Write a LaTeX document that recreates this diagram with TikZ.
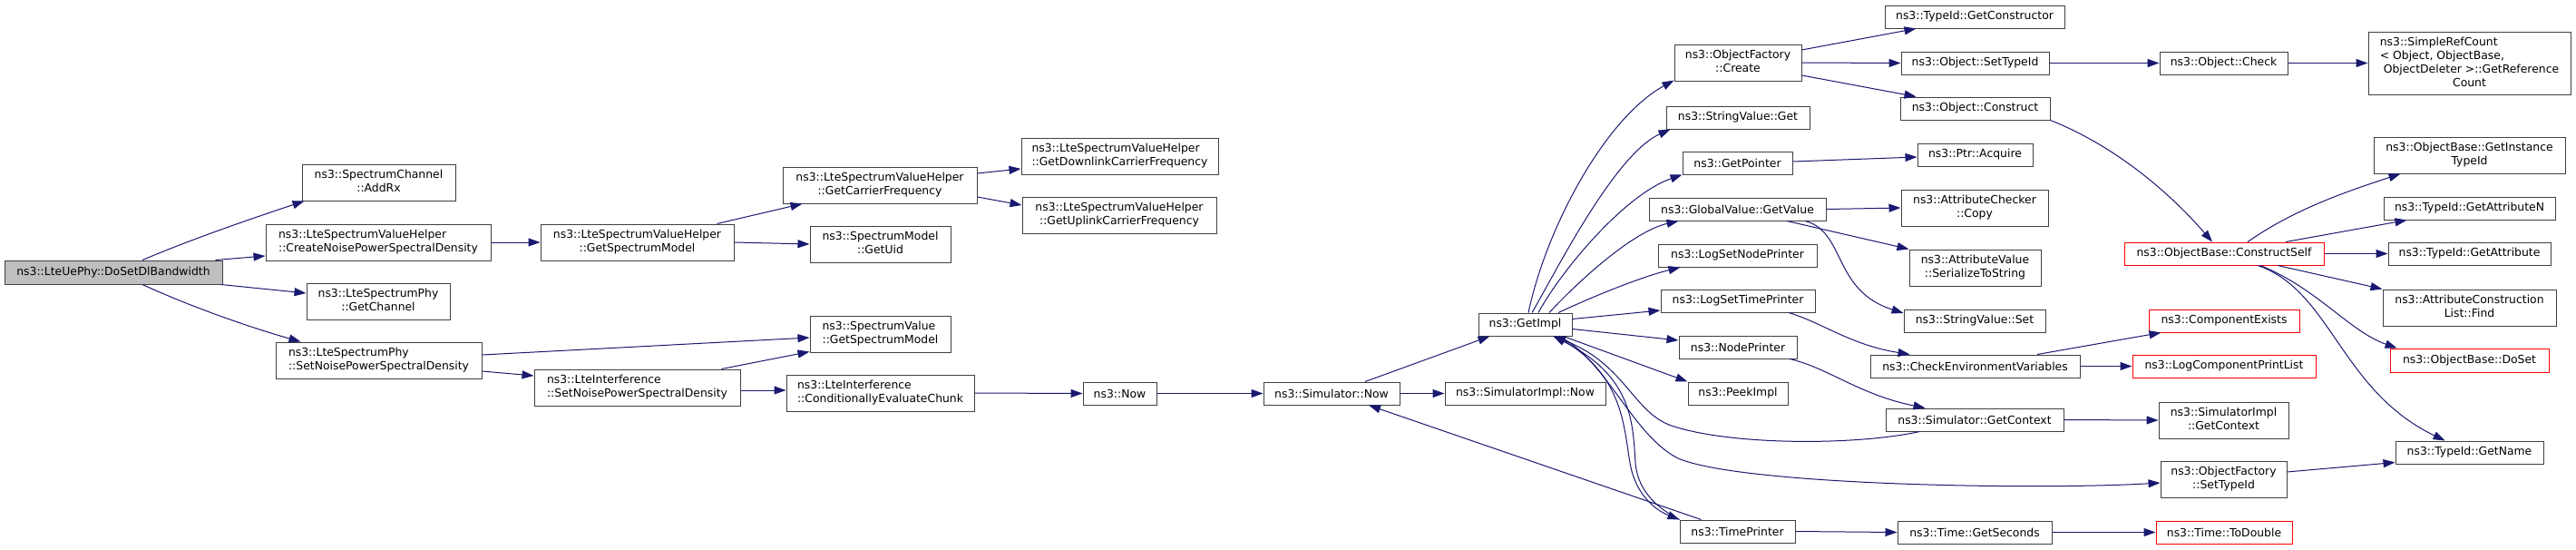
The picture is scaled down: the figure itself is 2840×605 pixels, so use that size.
\documentclass[tikz,border=0pt]{standalone}
\usepackage{fontspec}
\setmainfont{DejaVu Sans}
\usetikzlibrary{arrows.meta}
\definecolor{edgec}{HTML}{191970}
\definecolor{boxc}{HTML}{404040}
\definecolor{rootfill}{HTML}{BFBFBF}
\newcommand\lblTwo[2]{\begin{tabular}{@{}l@{}}#1\\\multicolumn{1}{@{}c@{}}{#2}\end{tabular}}
\newcommand\lblFour[4]{\begin{tabular}{@{}l@{}}#1\\#2\\#3\\\multicolumn{1}{@{}c@{}}{#4}\end{tabular}}
\begin{document}
\begin{tikzpicture}[x=1pt,y=-1pt,
  fn/.style={draw=boxc, line width=1pt, fill=white, inner sep=0pt, font=\fontsize{12.4}{15}\selectfont},
  fnred/.style={fn, draw=red},
  edge/.style={draw=edgec, line width=1pt, -{Triangle[length=13pt,width=9pt]}}]
\useasboundingbox[fill=white] (0,0) rectangle (2840,605);
% column 0
\node[fn, fill=rootfill, minimum width=240pt, minimum height=26pt] (dosetdl) at (125,300) {ns3::LteUePhy::DoSetDlBandwidth};
% column 1
\node[fn, minimum width=169pt, minimum height=40pt] (addrx) at (417.5,201) {\lblTwo{ns3::SpectrumChannel}{::AddRx}};
\node[fn, minimum width=248pt, minimum height=40pt] (createnoise) at (417,267) {\lblTwo{ns3::LteSpectrumValueHelper}{::CreateNoisePowerSpectralDensity}};
\node[fn, minimum width=158pt, minimum height=40pt] (getchannel) at (417,332) {\lblTwo{ns3::LteSpectrumPhy}{::GetChannel}};
\node[fn, minimum width=227pt, minimum height=40pt] (setnoisephy) at (417.5,397) {\lblTwo{ns3::LteSpectrumPhy}{::SetNoisePowerSpectralDensity}};
% column 2
\node[fn, minimum width=213pt, minimum height=40pt] (getspecmodel) at (702.5,267) {\lblTwo{ns3::LteSpectrumValueHelper}{::GetSpectrumModel}};
\node[fn, minimum width=227pt, minimum height=40pt] (lisetnoise) at (702.5,427) {\lblTwo{ns3::LteInterference}{::SetNoisePowerSpectralDensity}};
% column 3
\node[fn, minimum width=214pt, minimum height=40pt] (getcarrier) at (970,204) {\lblTwo{ns3::LteSpectrumValueHelper}{::GetCarrierFrequency}};
\node[fn, minimum width=155pt, minimum height=40pt] (getuid) at (970.5,269) {\lblTwo{ns3::SpectrumModel}{::GetUid}};
\node[fn, minimum width=155pt, minimum height=40pt] (svgetsm) at (970.5,368) {\lblTwo{ns3::SpectrumValue}{::GetSpectrumModel}};
\node[fn, minimum width=207pt, minimum height=40pt] (condeval) at (970.5,433) {\lblTwo{ns3::LteInterference}{::ConditionallyEvaluateChunk}};
% column 4
\node[fn, minimum width=217pt, minimum height=40pt] (downlink) at (1234.5,172) {\lblTwo{ns3::LteSpectrumValueHelper}{::GetDownlinkCarrierFrequency}};
\node[fn, minimum width=214pt, minimum height=40pt] (uplink) at (1234,237) {\lblTwo{ns3::LteSpectrumValueHelper}{::GetUplinkCarrierFrequency}};
\node[fn, minimum width=81pt, minimum height=25pt] (nsnow) at (1234.5,433.5) {ns3::Now};
% column 5
\node[fn, minimum width=150pt, minimum height=25pt] (simnow) at (1468,433.5) {ns3::Simulator::Now};
% column 6
\node[fn, minimum width=103pt, minimum height=25pt] (getimpl) at (1681.5,357.5) {ns3::GetImpl};
\node[fn, minimum width=177pt, minimum height=25pt] (simimplnow) at (1681.5,433.5) {ns3::SimulatorImpl::Now};
% column 7
\node[fn, minimum width=140pt, minimum height=40pt] (ofcreate) at (1916,69) {\lblTwo{ns3::ObjectFactory}{::Create}};
\node[fn, minimum width=158pt, minimum height=25pt] (svget) at (1916,129.5) {ns3::StringValue::Get};
\node[fn, minimum width=121pt, minimum height=25pt] (getpointer) at (1915.5,179.5) {ns3::GetPointer};
\node[fn, minimum width=195pt, minimum height=25pt] (gvgetvalue) at (1915.5,230.5) {ns3::GlobalValue::GetValue};
\node[fn, minimum width=175pt, minimum height=25pt] (logsetnode) at (1915.5,281.5) {ns3::LogSetNodePrinter};
\node[fn, minimum width=170pt, minimum height=25pt] (logsettime) at (1916,331.5) {ns3::LogSetTimePrinter};
\node[fn, minimum width=130pt, minimum height=25pt] (nodeprinter) at (1916,382.5) {ns3::NodePrinter};
\node[fn, minimum width=110pt, minimum height=25pt] (peekimpl) at (1916,433.5) {ns3::PeekImpl};
\node[fn, minimum width=127pt, minimum height=25pt] (timeprinter) at (1915.5,585.5) {ns3::TimePrinter};
% column 8
\node[fn, minimum width=198pt, minimum height=25pt] (getconstructor) at (2177,18.5) {ns3::TypeId::GetConstructor};
\node[fn, minimum width=163pt, minimum height=25pt] (objsettypeid) at (2177.5,69.5) {ns3::Object::SetTypeId};
\node[fn, minimum width=165pt, minimum height=25pt] (objconstruct) at (2177.5,119.5) {ns3::Object::Construct};
\node[fn, minimum width=127pt, minimum height=25pt] (ptracquire) at (2177.5,170.5) {ns3::Ptr::Acquire};
\node[fn, minimum width=162pt, minimum height=40pt] (accopy) at (2177,229) {\lblTwo{ns3::AttributeChecker}{::Copy}};
\node[fn, minimum width=145pt, minimum height=40pt] (avserialize) at (2177.5,295) {\lblTwo{ns3::AttributeValue}{::SerializeToString}};
\node[fn, minimum width=156pt, minimum height=25pt] (svset) at (2177,353.5) {ns3::StringValue::Set};
\node[fn, minimum width=231pt, minimum height=25pt] (checkenv) at (2177.5,403.5) {ns3::CheckEnvironmentVariables};
\node[fn, minimum width=196pt, minimum height=25pt] (simgetctx) at (2177,462.5) {ns3::Simulator::GetContext};
\node[fn, minimum width=170pt, minimum height=25pt] (timegetsec) at (2177,586.5) {ns3::Time::GetSeconds};
% column 9
\node[fn, minimum width=141pt, minimum height=25pt] (objcheck) at (2451.5,69.5) {ns3::Object::Check};
\node[fnred, minimum width=220pt, minimum height=25pt] (constructself) at (2452,279.5) {ns3::ObjectBase::ConstructSelf};
\node[fnred, minimum width=166pt, minimum height=25pt] (compexists) at (2452,353.5) {ns3::ComponentExists};
\node[fnred, minimum width=202pt, minimum height=25pt] (logcompprint) at (2452,403.5) {ns3::LogComponentPrintList};
\node[fn, minimum width=143pt, minimum height=40pt] (simimplctx) at (2451.5,463) {\lblTwo{ns3::SimulatorImpl}{::GetContext}};
\node[fn, minimum width=139pt, minimum height=40pt] (ofsettypeid) at (2451.5,528) {\lblTwo{ns3::ObjectFactory}{::SetTypeId}};
\node[fnred, minimum width=150pt, minimum height=25pt] (todouble) at (2452,586.5) {ns3::Time::ToDouble};
% column 10
\node[fn, minimum width=223pt, minimum height=69pt] (simplerefcount) at (2722.5,69.5) {\lblFour{ns3::SimpleRefCount}{< Object, ObjectBase,}{\ ObjectDeleter >::GetReference}{Count}};
\node[fn, minimum width=211pt, minimum height=40pt] (getinsttypeid) at (2722.5,171) {\lblTwo{ns3::ObjectBase::GetInstance}{TypeId}};
\node[fn, minimum width=189pt, minimum height=25pt] (getattrN) at (2722.5,229.5) {ns3::TypeId::GetAttributeN};
\node[fn, minimum width=179pt, minimum height=25pt] (getattr) at (2722.5,279.5) {ns3::TypeId::GetAttribute};
\node[fn, minimum width=191pt, minimum height=40pt] (acfind) at (2722.5,339) {\lblTwo{ns3::AttributeConstruction}{List::Find}};
\node[fnred, minimum width=175pt, minimum height=26pt] (doset) at (2722.5,397) {ns3::ObjectBase::DoSet};
\node[fn, minimum width=163pt, minimum height=25pt] (getname) at (2722.5,498.5) {ns3::TypeId::GetName};

% edges
\draw[edge] ([xshift=32pt]dosetdl.north) .. controls (215,262) and (280,240) .. ([xshift=3pt]addrx.south west);
\draw[edge] ([xshift=-8pt]dosetdl.north east) -- ([yshift=-15pt]createnoise.west);
\draw[edge] ([xshift=-2pt]dosetdl.south east) -- ([yshift=9pt]getchannel.west);
\draw[edge] ([xshift=32pt]dosetdl.south) .. controls (215,340) and (280,362) .. ([xshift=28pt]setnoisephy.north west);
\draw[edge] (createnoise.east) -- (getspecmodel.west);
\draw[edge] ([xshift=-19pt]getspecmodel.north east) -- ([xshift=22pt]getcarrier.south west);
\draw[edge] (getspecmodel.east) -- (getuid.west);
\draw[edge] ([yshift=13pt]getcarrier.east) -- ([yshift=-14pt]downlink.west);
\draw[edge] ([yshift=-13pt]getcarrier.east) -- ([yshift=11pt]uplink.west);
\draw[edge] ([yshift=6pt]setnoisephy.east) -- ([yshift=-4pt]svgetsm.west);
\draw[edge] ([yshift=-12pt]setnoisephy.east) -- ([yshift=13pt]lisetnoise.west);
\draw[edge] ([xshift=-21pt]lisetnoise.north east) -- ([yshift=1pt]svgetsm.south west);
\draw[edge] ([yshift=-3pt]lisetnoise.east) -- ([yshift=3pt]condeval.west);
\draw[edge] (condeval.east) -- (nsnow.west);
\draw[edge] (nsnow.east) -- (simnow.west);
\draw[edge] ([xshift=37pt]simnow.north) -- ([xshift=13pt]getimpl.south west);
\draw[edge] (simnow.east) -- (simimplnow.west);
\draw[edge] ([xshift=24pt]timeprinter.north west) -- ([xshift=41pt]simnow.south);
\draw[edge] ([xshift=3.5pt]getimpl.north) .. controls (1705,250) and (1770,130) .. ([yshift=1pt]ofcreate.south west);
\draw[edge] ([xshift=7.5pt]getimpl.north) .. controls (1715,300) and (1780,170) .. ([xshift=5pt]svget.south west);
\draw[edge] ([xshift=14.5pt]getimpl.north) .. controls (1720,300) and (1790,215) .. (getpointer.south west);
\draw[edge] ([xshift=26.5pt]getimpl.north) .. controls (1740,310) and (1800,255) .. ([xshift=33pt]gvgetvalue.south west);
\draw[edge] ([xshift=36.5pt]getimpl.north) .. controls (1760,325) and (1810,305) .. ([xshift=25pt]logsetnode.south west);
\draw[edge] ([yshift=6pt]getimpl.east) -- ([yshift=-10.5pt]logsettime.west);
\draw[edge] ([yshift=-5pt]getimpl.east) -- ([yshift=7.5pt]nodeprinter.west);
\draw[edge] ([xshift=-10pt]getimpl.south east) -- (peekimpl.north west);
\draw[edge] ([xshift=38pt]simgetctx.south west) .. controls (2040,492) and (1900,490) .. (1840,468) .. controls (1800,452) and (1790,400) .. ([xshift=-21pt]getimpl.south east);
\draw[edge] ([xshift=-15pt]getimpl.south east) .. controls (1770,395) and (1800,480) .. (1850,505) .. controls (1920,535) and (2250,540) .. ([yshift=-4pt]ofsettypeid.west);
\draw[edge] ([xshift=-18pt]getimpl.south east) .. controls (1790,410) and (1790,470) .. (1797,510) .. controls (1803,545) and (1825,562) .. (timeprinter.north west);
\draw[edge] (timeprinter.north west) .. controls (1832,562) and (1806,545) .. (1803,510) .. controls (1800,465) and (1800,415) .. ([xshift=-21pt]getimpl.south east);
\draw[edge] ([xshift=56pt]logsettime.south) .. controls (2010,356) and (2040,380) .. ([xshift=44pt]checkenv.north west);
\draw[edge] ([xshift=57pt]nodeprinter.south) .. controls (2015,405) and (2050,435) .. ([xshift=44pt]simgetctx.north west);
\draw[edge] (gvgetvalue.east) -- (accopy.west);
\draw[edge] ([xshift=54.5pt]gvgetvalue.south) -- (avserialize.north west);
\draw[edge] ([xshift=74.5pt]gvgetvalue.south) .. controls (2035,255) and (2020,320) .. ([yshift=8.5pt]svset.west);
\draw[edge] ([yshift=1.5pt]getpointer.east) -- ([yshift=-2.5pt]ptracquire.west);
\draw[edge] ([yshift=14pt]ofcreate.east) -- ([xshift=35pt]getconstructor.south west);
\draw[edge] (ofcreate.east) -- (objsettypeid.west);
\draw[edge] ([yshift=-14pt]ofcreate.east) -- ([xshift=18pt]objconstruct.north west);
\draw[edge] (objsettypeid.east) -- (objcheck.west);
\draw[edge] (objcheck.east) -- (simplerefcount.west);
\draw[edge] (objconstruct.south east) .. controls (2330,160) and (2390,210) .. ([xshift=-13pt]constructself.north);
\draw[edge] ([xshift=26pt]constructself.north) .. controls (2530,230) and (2590,210) .. ([xshift=30pt]getinsttypeid.south west);
\draw[edge] ([xshift=68pt]constructself.north) -- ([xshift=26pt]getattrN.south west);
\draw[edge] (constructself.east) -- (getattr.west);
\draw[edge] ([xshift=59pt]constructself.south) -- (acfind.north west);
\draw[edge] ([xshift=40pt]constructself.south) .. controls (2555,318) and (2590,365) .. ([xshift=8pt]doset.north west);
\draw[edge] ([xshift=37pt]constructself.south) .. controls (2570,320) and (2580,430) .. ([xshift=55pt]getname.north west);
\draw[edge] ([yshift=8pt]ofsettypeid.east) -- ([yshift=2pt]getname.south west);
\draw[edge] ([xshift=68.5pt]checkenv.north) -- ([xshift=14pt]compexists.south west);
\draw[edge] (checkenv.east) -- (logcompprint.west);
\draw[edge] (simgetctx.east) -- (simimplctx.west);
\draw[edge] (timeprinter.east) -- (timegetsec.west);
\draw[edge] (timegetsec.east) -- (todouble.west);
\end{tikzpicture}
\end{document}
